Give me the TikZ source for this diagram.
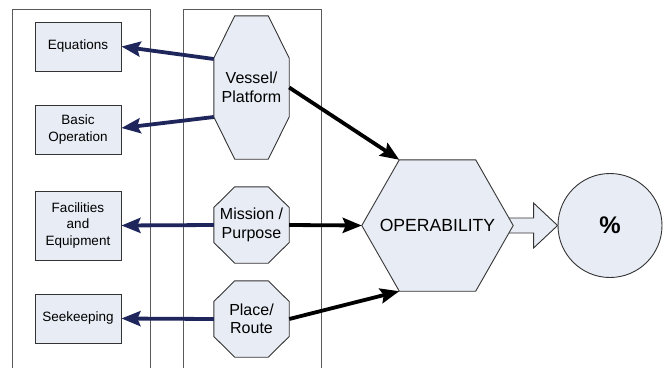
\documentclass[tikz,border=0pt]{standalone}
\usepackage{fontspec}
\setmainfont{Liberation Sans}
\usetikzlibrary{arrows.meta,calc,backgrounds}
\definecolor{boxfill}{RGB}{232,236,244}
\definecolor{navy}{RGB}{31,38,92}
\definecolor{panelc}{RGB}{90,90,90}
\begin{document}
\begin{tikzpicture}[x=1pt,y=-1pt,
 box/.style={draw=black!80,fill=boxfill,line width=0.9pt,minimum width=86pt,minimum height=49pt,inner sep=0pt,align=center,font=\fontsize{13.5}{16.5}\selectfont},
 octnode/.style={minimum width=75pt,minimum height=76pt,inner sep=0pt,align=center,font=\fontsize{16}{18.5}\selectfont},
 navyarrow/.style={draw=navy,line width=3.8pt,-{Stealth[length=19pt,width=15pt,inset=3pt]}},
 blackarrow/.style={draw=black,line width=3.8pt,-{Stealth[length=19pt,width=15pt,inset=3pt]}},
 panel/.style={draw=panelc,line width=0.9pt},
 shapeline/.style={draw=black!80,fill=boxfill,line width=0.9pt},
]
\useasboundingbox (0,0) rectangle (663,367);
% panels
\draw[panel] (12,368) -- (12,9) -- (150,9) -- (150,368);
\draw[panel] (183,368) -- (183,9) -- (321,9) -- (321,368);
% left boxes
\node[box] (eq) at (78,46.5) {Equations};
\node[box] (bo) at (78,129.5) {Basic\\Operation};
\node[box,minimum height=69pt] (fe) at (78,225.5) {Facilities\\and\\Equipment};
\node[box] (sk) at (78,318.5) {Seekeeping};
% vessel, mission, place
\node[octnode,minimum height=143pt] (v) at (251.5,87.5) {Vessel/\\Platform};
\node[octnode] (mp) at (251.5,225) {Mission /\\Purpose};
\node[octnode] (pr) at (251.5,319) {Place/\\Route};
% operability and result
\node[minimum width=151pt,minimum height=131pt,inner sep=0pt,font=\fontsize{17.6}{20}\selectfont] (op) at (437.5,225.5) {OPERABILITY};
\node[circle,draw=black!80,fill=boxfill,line width=0.9pt,minimum size=104pt,inner sep=0pt,font=\fontsize{24}{28}\selectfont\bfseries] (pc) at (610,225.5) {\%};
\coordinate (optl) at ($(op.north west)+(37.5,0)$);
\coordinate (opbl) at ($(op.south west)+(37.5,0)$);
\begin{scope}[on background layer]
\draw[shapeline] ($(v.north west)+(21,0)$) -- ($(v.north east)+(-21,0)$) -- ($(v.east)+(0,-29.5)$) -- ($(v.east)+(0,29.5)$) -- ($(v.south east)+(-21,0)$) -- ($(v.south west)+(21,0)$) -- ($(v.west)+(0,29.5)$) -- ($(v.west)+(0,-29.5)$) -- cycle;
\foreach \n in {mp,pr}{
\draw[shapeline] ($(\n.north west)+(21,0)$) -- ($(\n.north east)+(-21,0)$) -- ($(\n.east)+(0,-17.5)$) -- ($(\n.east)+(0,17.5)$) -- ($(\n.south east)+(-21,0)$) -- ($(\n.south west)+(21,0)$) -- ($(\n.west)+(0,17.5)$) -- ($(\n.west)+(0,-17.5)$) -- cycle;
}
\fill[boxfill] ($(op.east)+(-10,-7.5)$) -- ($(pc.west)+(-24,-7.5)$) -- ($(pc.west)+(-24,-22.5)$) -- (pc.west) -- ($(pc.west)+(-24,22.5)$) -- ($(pc.west)+(-24,7.5)$) -- ($(op.east)+(-10,7.5)$) -- cycle;
\draw[draw=black!80,line width=0.9pt] ($(op.east)+(-10,-7.5)$) -- ($(pc.west)+(-24,-7.5)$) -- ($(pc.west)+(-24,-22.5)$) -- (pc.west) -- ($(pc.west)+(-24,22.5)$) -- ($(pc.west)+(-24,7.5)$) -- ($(op.east)+(-10,7.5)$);
\draw[shapeline] (op.west) -- (optl) -- ($(op.north east)+(-37.5,0)$) -- (op.east) -- ($(op.south east)+(-37.5,0)$) -- (opbl) -- cycle;
\end{scope}
% navy arrows
\draw[navyarrow] ($(v.west)+(0,-28.5)$) -- (eq.east);
\draw[navyarrow] ($(v.west)+(0,29.5)$) -- ($(bo.east)+(0,-1.5)$);
\draw[navyarrow] (mp.west) -- (fe.east);
\draw[navyarrow] (pr.west) -- (sk.east);
% black arrows
\draw[blackarrow] (v.east) -- (optl);
\draw[blackarrow] (mp.east) -- (op.west);
\draw[blackarrow] (pr.east) -- (opbl);
\end{tikzpicture}
\end{document}
